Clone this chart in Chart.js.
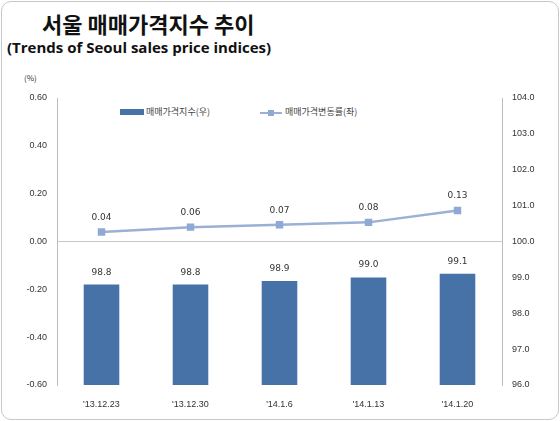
<!DOCTYPE html>
<html><head><meta charset="utf-8">
<script src="https://cdn.jsdelivr.net/npm/chart.js@4"></script>
<style>
body{margin:0;background:#fff;font-family:"Noto Sans CJK KR","Malgun Gothic",sans-serif;}
#wrap{position:relative;width:558px;height:419px;border:1px solid #c8c8c8;border-radius:10px;box-sizing:border-box;margin:1px;overflow:hidden;}
#t1{position:absolute;left:40px;top:5px;font-size:22px;font-weight:bold;color:#111;}
#t2{position:absolute;left:5px;top:35px;font-size:15px;font-weight:bold;color:#111;font-family:"Open Sans",sans-serif;}
#pct{position:absolute;left:22px;top:70px;font-size:8px;color:#333;}
.lg{position:absolute;top:103px;font-size:9px;color:#444;}
canvas{position:absolute;left:0;top:0;}
</style></head><body>
<div id="wrap">
<div id="t1">서울 매매가격지수 추이</div>
<div id="t2">(Trends of Seoul sales price indices)</div>
<div id="pct">(%)</div>
<div class="lg" style="left:118px"><span style="display:inline-block;width:24px;height:6px;background:#4672a8;margin-right:2px"></span>매매가격지수(우)</div>
<div class="lg" style="left:258px"><span style="display:inline-block;width:22px;height:2px;background:#9bb0d4;vertical-align:middle;position:relative;margin-right:3px"><span style="position:absolute;left:8px;top:-2px;width:6px;height:6px;background:#8ea9d6"></span></span>매매가격변동률(좌)</div>
<canvas id="c" width="558" height="419"></canvas>
</div>
<script>
const categories = ["'13.12.23", "'13.12.30", "'14.1.6", "'14.1.13", "'14.1.20"];
const indexValues = [98.8, 98.8, 98.9, 99.0, 99.1];
const changeRates = [0.04, 0.06, 0.07, 0.08, 0.13];

const labelPlugin = {
  id: "labels",
  afterDatasetsDraw(chart) {
    const ctx = chart.ctx;
    ctx.save();
    ctx.font = "9px 'DejaVu Sans', sans-serif";
    ctx.fillStyle = "#333";
    ctx.textAlign = "center";
    chart.data.datasets.forEach((ds, i) => {
      chart.getDatasetMeta(i).data.forEach((el, j) => {
        const v = ds.data[j];
        const txt = i === 0 ? v.toFixed(2) : v.toFixed(1);
        ctx.fillText(txt, el.x, el.y - (i === 0 ? 12 : 10));
      });
    });
    ctx.restore();
  }
};

new Chart(document.getElementById("c"), {
  data: {
    labels: categories,
    datasets: [
      { type: "line", label: "매매가격변동률(좌)", data: changeRates, yAxisID: "y",
        borderColor: "#9bb0d4", borderWidth: 2.5, pointStyle: "rect", pointRadius: 3.5,
        pointBackgroundColor: "#8ea9d6", pointBorderColor: "#8ea9d6", order: 0 },
      { type: "bar", label: "매매가격지수(우)", data: indexValues, yAxisID: "y1",
        backgroundColor: "#4672a8", barPercentage: 0.4, categoryPercentage: 1, order: 1 }
    ]
  },
  options: {
    responsive: false, animation: false,
    layout: { padding: { top: 96, bottom: 0, left: 0, right: 0 } },
    plugins: { legend: { display: false }, tooltip: { enabled: false } },
    scales: {
      x: { grid: { display: false }, border: { display: false },
        ticks: { color: "#333", font: { size: 9 }, padding: 6 },
        afterFit(s) { s.height = 36; } },
      y: { position: "left", min: -0.6, max: 0.6,
        ticks: { stepSize: 0.2, color: "#333", font: { size: 9 }, padding: 10,
          callback: v => v.toFixed(2) },
        grid: { drawTicks: false, color: c => Math.abs(c.tick.value) < 1e-9 ? "#c8c8c8" : "transparent" },
        border: { color: "#bbb" },
        afterFit(s) { s.width = 55; } },
      y1: { position: "right", min: 96, max: 104,
        ticks: { stepSize: 1, color: "#333", font: { size: 9 }, padding: 10,
          callback: v => v.toFixed(1) },
        grid: { display: false, drawTicks: false }, border: { color: "#bbb" },
        afterFit(s) { s.width = 58; } }
    }
  },
  plugins: [labelPlugin]
});
</script>
</body></html>
